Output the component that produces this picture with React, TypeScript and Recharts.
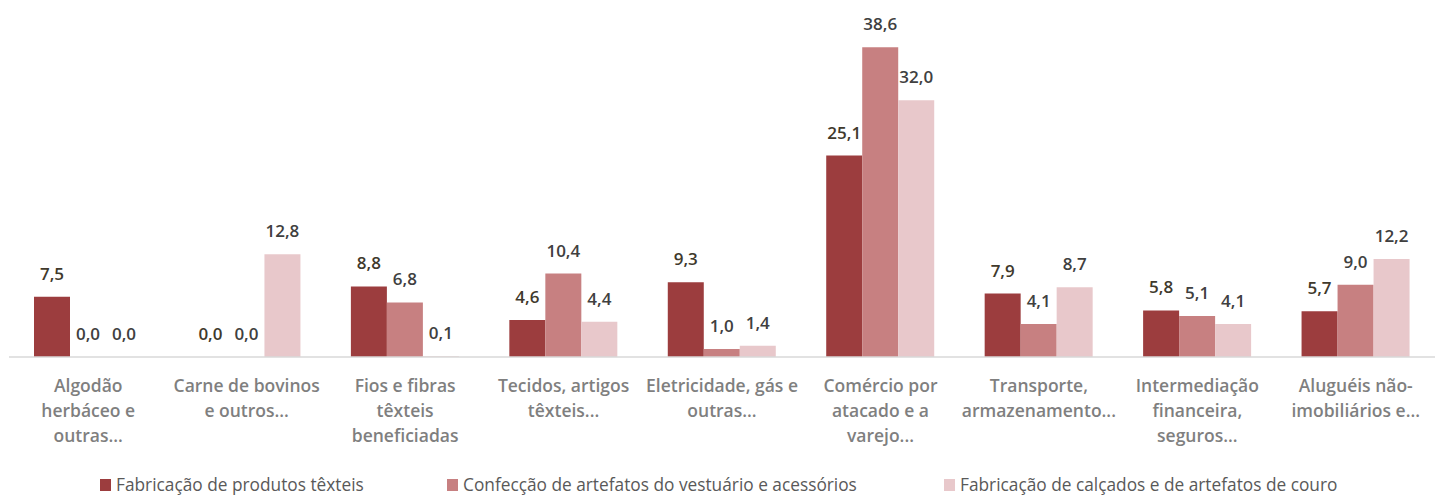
import React from 'react';
import { BarChart, Bar, XAxis, YAxis, LabelList } from 'recharts';

const categories = [
  ['Algodão', 'herbáceo e', 'outras...'],
  ['Carne de bovinos', 'e outros...'],
  ['Fios e fibras', 'têxteis', 'beneficiadas'],
  ['Tecidos, artigos', 'têxteis...'],
  ['Eletricidade, gás e', 'outras...'],
  ['Comércio por', 'atacado e a', 'varejo...'],
  ['Transporte,', 'armazenamento...'],
  ['Intermediação', 'financeira,', 'seguros...'],
  ['Aluguéis não-', 'imobiliários e...'],
];

const textil = [7.5, 0.0, 8.8, 4.6, 9.3, 25.1, 7.9, 5.8, 5.7];
const vestuario = [0.0, 0.0, 6.8, 10.4, 1.0, 38.6, 4.1, 5.1, 9.0];
const calcados = [0.0, 12.8, 0.1, 4.4, 1.4, 32.0, 8.7, 4.1, 12.2];

const seriesNames = [
  'Fabricação de produtos têxteis',
  'Confecção de artefatos do vestuário e acessórios',
  'Fabricação de calçados e de artefatos de couro',
];

const colors = ['#9c3d3e', '#c78081', '#e8c8cb'];

const data = categories.map((lines, i) => ({
  name: lines.join(' '),
  lines,
  a: textil[i],
  b: vestuario[i],
  c: calcados[i],
}));

const FONT = '"Open Sans", "Noto Sans", sans-serif';

const fmt = (v: any) => Number(v).toFixed(1).replace('.', ',');

const CategoryTick = ({ x, y, payload, index }: any) => {
  const lines = categories[index] ?? [String(payload.value)];
  return (
    <text
      x={x}
      y={y}
      textAnchor="middle"
      fill="#7f7f7f"
      fontFamily={FONT}
      fontSize={17.5}
      fontWeight={600}
    >
      {lines.map((l, i) => (
        <tspan key={i} x={x} dy={i === 0 ? 27 : 25}>
          {l}
        </tspan>
      ))}
    </text>
  );
};

const labelStyle = (color: string) => ({
  fill: color,
  fontFamily: FONT,
  fontSize: 17,
  fontWeight: 600,
});

const legendPos = [100, 447, 944];

export default function App() {
  return (
    <div style={{ position: 'absolute', left: 0, top: 0, width: 1437, height: 495, background: '#fff', overflow: 'hidden' }}>
      <BarChart
        width={1437}
        height={495}
        data={data}
        margin={{ top: 36, right: 2, left: 9, bottom: 38 }}
        barCategoryGap={25}
        barGap={0}
      >
        <XAxis
          dataKey="name"
          axisLine={{ stroke: '#d9d9d9', strokeWidth: 1.5 }}
          tickLine={false}
          interval={0}
          height={100}
          tick={<CategoryTick />}
        />
        <YAxis hide domain={[0, 40]} />
        <Bar dataKey="a" fill={colors[0]} minPointSize={0.01} isAnimationActive={false}>
          <LabelList dataKey="a" position="top" offset={17} formatter={fmt} style={labelStyle('#40392c')} />
        </Bar>
        <Bar dataKey="b" fill={colors[1]} minPointSize={0.01} isAnimationActive={false}>
          <LabelList dataKey="b" position="top" offset={17} formatter={fmt} style={labelStyle('#404040')} />
        </Bar>
        <Bar dataKey="c" fill={colors[2]} minPointSize={0.01} isAnimationActive={false}>
          <LabelList dataKey="c" position="top" offset={17} formatter={fmt} style={labelStyle('#404040')} />
        </Bar>
      </BarChart>
      {seriesNames.map((n, i) => (
        <div
          key={n}
          style={{
            position: 'absolute',
            left: legendPos[i],
            top: 475,
            display: 'flex',
            alignItems: 'center',
            fontFamily: FONT,
            fontSize: 17.3,
            color: '#595959',
            lineHeight: '20px',
            whiteSpace: 'nowrap',
          }}
        >
          <span style={{ width: 11, height: 12, background: colors[i], marginRight: 5, display: 'inline-block' }} />
          {n}
        </div>
      ))}
    </div>
  );
}
